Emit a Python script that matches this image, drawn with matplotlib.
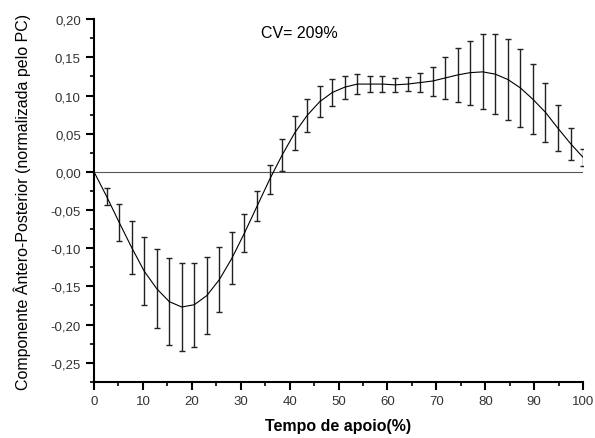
import numpy as np
import matplotlib.pyplot as plt
from matplotlib.ticker import MultipleLocator, FuncFormatter

# tempo de apoio (%) - 40 pontos de 0 a 100
tempo = np.linspace(0, 100, 40)

media = [0.000, -0.032, -0.066, -0.099, -0.130, -0.153, -0.170, -0.177, -0.174, -0.162,
         -0.141, -0.113, -0.080, -0.045, -0.010, 0.022, 0.051, 0.074, 0.092, 0.104,
         0.111, 0.115, 0.115, 0.115, 0.114, 0.115, 0.117, 0.119, 0.123, 0.127,
         0.130, 0.131, 0.128, 0.121, 0.110, 0.095, 0.078, 0.057, 0.037, 0.019]

desvio = [0.000, 0.011, 0.024, 0.035, 0.045, 0.052, 0.057, 0.058, 0.055, 0.050,
          0.042, 0.034, 0.025, 0.020, 0.019, 0.021, 0.022, 0.022, 0.020, 0.018,
          0.015, 0.013, 0.011, 0.010, 0.009, 0.009, 0.013, 0.019, 0.027, 0.035,
          0.042, 0.049, 0.052, 0.053, 0.051, 0.046, 0.039, 0.030, 0.021, 0.011]

cv_texto = "CV= 209%"

plt.rcParams["font.family"] = ["Liberation Sans", "DejaVu Sans"]

fig = plt.figure(figsize=(5.95, 4.39), dpi=100)
ax = fig.add_axes([0.158, 0.128, 0.822, 0.826])

# linha do zero
ax.plot([0, 100], [0, 0], color="#555555", lw=0.8)

# barras de erro (sem o primeiro ponto)
ax.errorbar(tempo[1:], media[1:], yerr=desvio[1:], fmt="none",
            ecolor="#222222", elinewidth=1.0, capsize=2, capthick=1.0)
ax.plot(tempo, media, color="black", lw=0.8)

ax.text(42.0, 0.182, cv_texto, ha="center", va="center", fontsize=11.5)

ax.set_xlim(0, 100)
ax.set_ylim(-0.275, 0.20)
ax.xaxis.set_major_locator(MultipleLocator(10))
ax.xaxis.set_minor_locator(MultipleLocator(5))
ax.yaxis.set_major_locator(MultipleLocator(0.05))
ax.yaxis.set_minor_locator(MultipleLocator(0.025))
ax.yaxis.set_major_formatter(FuncFormatter(lambda v, p: f"{v:.2f}".replace(".", ",").replace("-0,00", "0,00")))

for s in ["top", "right"]:
    ax.spines[s].set_visible(False)
for s in ["left", "bottom"]:
    ax.spines[s].set_linewidth(1.5)

ax.tick_params(which="major", direction="out", length=6, width=1.5, labelsize=9.5, colors="black", labelcolor="#333333")
ax.tick_params(which="minor", direction="out", length=3, width=1.2)

ax.set_xlabel("Tempo de apoio(%)", fontsize=11.5, fontweight="bold", labelpad=8)
ax.set_ylabel("Componente Ântero-Posterior (normalizada pelo PC)", fontsize=11.5, labelpad=14)

fig.savefig("out.png", dpi=100)
